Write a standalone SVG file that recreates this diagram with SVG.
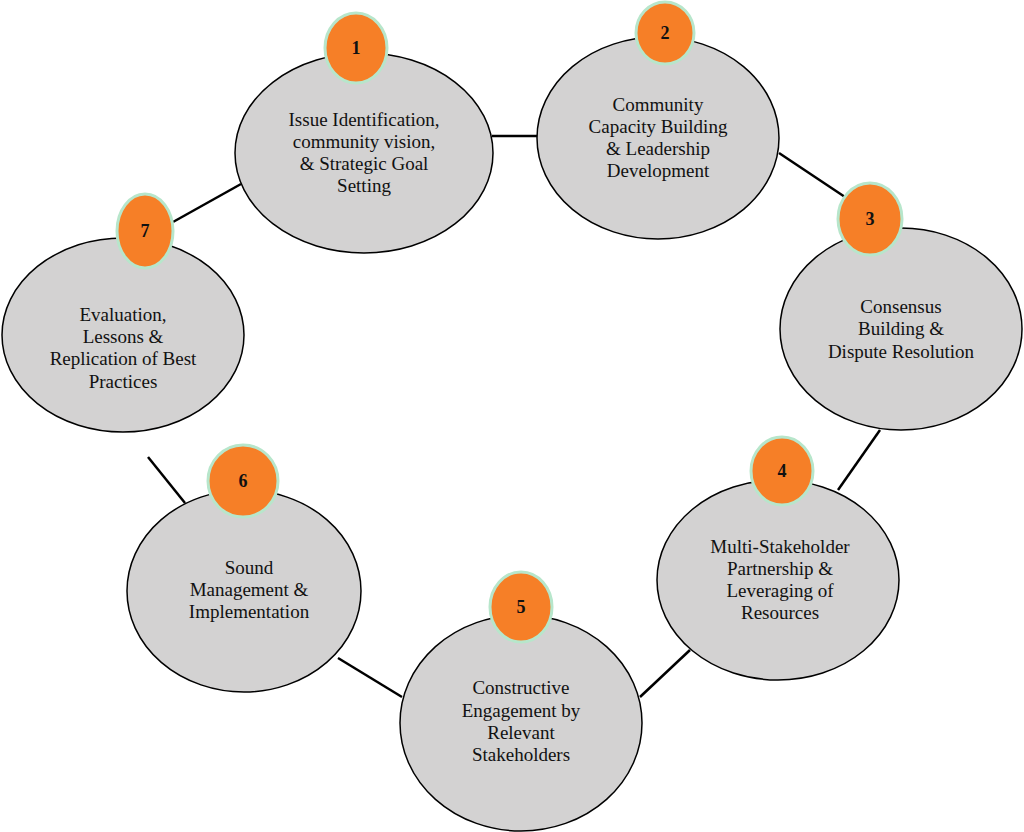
<svg xmlns="http://www.w3.org/2000/svg" width="1024" height="832" viewBox="0 0 1024 832">
<style>
.node{fill:#d3d2d2;stroke:#000;stroke-width:1.5}
.badge{fill:#f67f27;stroke:#b7e6cb;stroke-width:3}
.lbl{font-family:'Liberation Serif','DejaVu Serif',serif;font-size:19px;fill:#111;text-anchor:middle}
.num{font-family:'Liberation Serif','DejaVu Serif',serif;font-size:18px;font-weight:bold;fill:#111;text-anchor:middle}
.conn line{stroke:#000;stroke-width:2.5}
</style>
<rect width="1024" height="832" fill="#fff"/>
<g class="conn">
<line x1="492" y1="136" x2="537" y2="136"/>
<line x1="779" y1="153" x2="845" y2="197"/>
<line x1="880" y1="430" x2="838" y2="490"/>
<line x1="690" y1="650" x2="640" y2="697"/>
<line x1="402" y1="697" x2="338" y2="658"/>
<line x1="148" y1="457" x2="185" y2="503"/>
<line x1="173" y1="222" x2="241" y2="184"/>
</g>
<g id="node1">
<ellipse class="node" cx="364" cy="153" rx="129" ry="100"/>
<ellipse class="badge" cx="356" cy="48" rx="31" ry="35"/>
<text class="num" x="356" y="54">1</text>
<text class="lbl" x="364" y="126">Issue Identification,</text>
<text class="lbl" x="364" y="148">community vision,</text>
<text class="lbl" x="364" y="170">&amp; Strategic Goal</text>
<text class="lbl" x="364" y="192">Setting</text>
</g>
<g id="node2">
<ellipse class="node" cx="658" cy="138" rx="121" ry="101"/>
<ellipse class="badge" cx="665" cy="33" rx="29" ry="31"/>
<text class="num" x="665" y="39">2</text>
<text class="lbl" x="658" y="111">Community</text>
<text class="lbl" x="658" y="133">Capacity Building</text>
<text class="lbl" x="658" y="155">&amp; Leadership</text>
<text class="lbl" x="658" y="177">Development</text>
</g>
<g id="node3">
<ellipse class="node" cx="901" cy="329" rx="121" ry="101"/>
<ellipse class="badge" cx="870" cy="219" rx="32" ry="36"/>
<text class="num" x="870" y="225">3</text>
<text class="lbl" x="901" y="313">Consensus</text>
<text class="lbl" x="901" y="335">Building &amp;</text>
<text class="lbl" x="901" y="358">Dispute Resolution</text>
</g>
<g id="node4">
<ellipse class="node" cx="778" cy="580" rx="121" ry="100"/>
<ellipse class="badge" cx="782" cy="471" rx="31" ry="34"/>
<text class="num" x="782" y="477">4</text>
<text class="lbl" x="780" y="553">Multi-Stakeholder</text>
<text class="lbl" x="780" y="575">Partnership &amp;</text>
<text class="lbl" x="780" y="597">Leveraging of</text>
<text class="lbl" x="780" y="619">Resources</text>
</g>
<g id="node5">
<ellipse class="node" cx="521" cy="723" rx="121" ry="108"/>
<ellipse class="badge" cx="521" cy="607" rx="31" ry="35"/>
<text class="num" x="521" y="613">5</text>
<text class="lbl" x="521" y="694">Constructive</text>
<text class="lbl" x="521" y="717">Engagement by</text>
<text class="lbl" x="521" y="739">Relevant</text>
<text class="lbl" x="521" y="761">Stakeholders</text>
</g>
<g id="node6">
<ellipse class="node" cx="244" cy="591" rx="117" ry="101"/>
<ellipse class="badge" cx="243" cy="481" rx="35" ry="36"/>
<text class="num" x="243" y="487">6</text>
<text class="lbl" x="249" y="574">Sound</text>
<text class="lbl" x="249" y="596">Management &amp;</text>
<text class="lbl" x="249" y="618">Implementation</text>
</g>
<g id="node7">
<ellipse class="node" cx="123" cy="335" rx="121" ry="97"/>
<ellipse class="badge" cx="145" cy="231" rx="28" ry="37"/>
<text class="num" x="145" y="237">7</text>
<text class="lbl" x="123" y="321">Evaluation,</text>
<text class="lbl" x="123" y="343">Lessons &amp;</text>
<text class="lbl" x="123" y="365">Replication of Best</text>
<text class="lbl" x="123" y="388">Practices</text>
</g>
</svg>
